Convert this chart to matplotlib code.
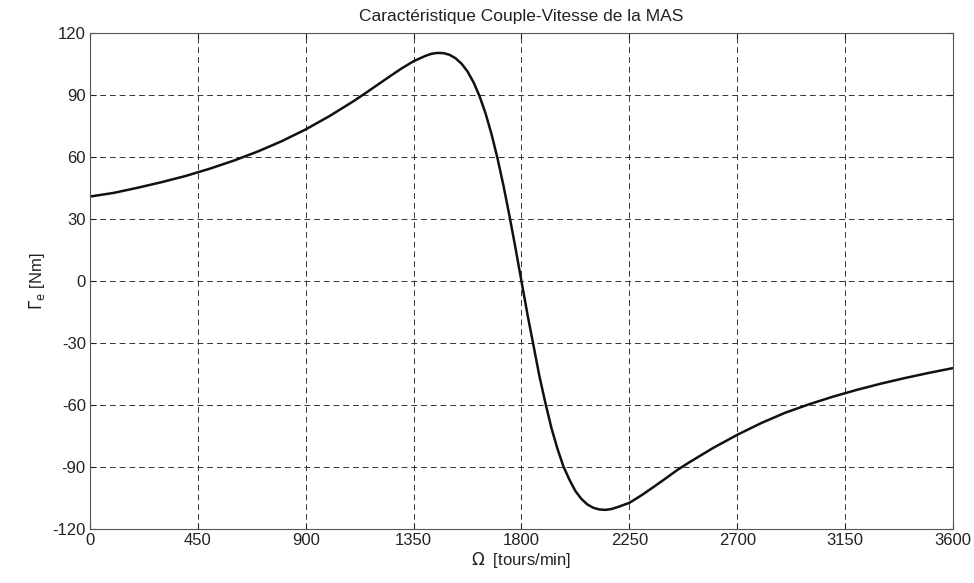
"""Caracteristique couple-vitesse de la machine asynchrone (style MATLAB)."""

import matplotlib
matplotlib.use("Agg")
import matplotlib.pyplot as plt

# Points (vitesse en tours/min, couple en Nm)
vitesse = [
    0, 100, 200, 300, 400, 500, 600, 700, 800, 900, 1000, 1100, 1150, 1200,
    1250, 1300, 1350, 1400, 1425, 1450, 1475, 1500, 1525, 1550, 1575, 1600,
    1625, 1650, 1675, 1700, 1725, 1750, 1775, 1800, 1825, 1850, 1875, 1900,
    1925, 1950, 1975, 2000, 2025, 2050, 2075, 2100, 2125, 2150, 2175, 2200,
    2250, 2300, 2350, 2400, 2450, 2500, 2600, 2700, 2800, 2900, 3000, 3100,
    3200, 3300, 3400, 3500, 3600,
]
couple = [
    41.0, 42.8, 45.3, 48.0, 51.0, 54.5, 58.4, 62.8, 67.8, 73.5, 80.0, 87.2,
    91.1, 95.1, 99.1, 103.0, 106.5, 109.1, 110.1, 110.5, 110.4, 109.6, 107.9,
    105.3, 101.5, 96.3, 89.6, 81.3, 71.2, 59.5, 46.2, 31.6, 16.1, 0.0, -16.0,
    -31.0, -46.0, -59.0, -71.0, -81.0, -89.6, -96.0, -101.5, -105.3, -108.0,
    -109.6, -110.4, -110.6, -110.2, -109.3, -107.2, -103.6, -99.6, -95.5,
    -91.3, -87.6, -80.6, -74.3, -68.6, -63.6, -59.5, -55.8, -52.5, -49.5,
    -46.8, -44.3, -42.0,
]
x_ticks = [0, 450, 900, 1350, 1800, 2250, 2700, 3150, 3600]
y_ticks = [-120, -90, -60, -30, 0, 30, 60, 90, 120]

plt.rcParams["font.family"] = ["Liberation Sans", "DejaVu Sans"]
plt.rcParams["axes.unicode_minus"] = False

fig = plt.figure(figsize=(9.74, 5.83), dpi=100)
ax = fig.add_axes([0.0924, 0.0921, 0.886, 0.8508])

ax.plot(vitesse, couple, color="#111111", linewidth=1.8)

ax.set_xlim(0, 3600)
ax.set_ylim(-120, 120)
ax.set_xticks(x_ticks)
ax.set_yticks(y_ticks)
ax.tick_params(direction="in", top=True, right=True, length=4,
               labelsize=12, colors="#222222", pad=3)
for side in ax.spines.values():
    side.set_color("#555555")
    side.set_linewidth(0.8)

ax.grid(True, color="#333333", linestyle=(0, (6, 4)), linewidth=0.7)

ax.set_title("Caractéristique Couple-Vitesse de la MAS", fontsize=12.5,
             color="#222222", pad=9)
ax.set_xlabel(r"$\Omega$  [tours/min]", fontsize=12, color="#222222",
              labelpad=1)
ax.set_ylabel(r"$\Gamma_{\mathrm{e}}$ [Nm]", fontsize=12, color="#222222",
              labelpad=4)

fig.savefig("out.png", dpi=100)
plt.close(fig)
